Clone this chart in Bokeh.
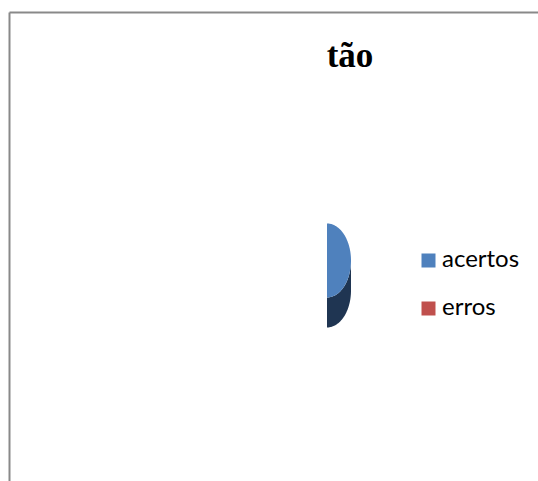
import numpy as np
from bokeh.plotting import figure
from bokeh.models import Range1d, Label
from bokeh.core.properties import value
from bokeh.embed import file_html
from bokeh.resources import INLINE

# Data
categories = ["acertos", "erros"]
percentages = [100, 0]
title_text = "tão"

# Styles
top_colors = ["#4F81BD", "#C0504D"]
side_colors = ["#1F3552", "#5E2523"]

W, H = 538, 481
p = figure(width=W, height=H, output_backend="svg", toolbar_location=None,
           x_range=Range1d(0, W), y_range=Range1d(H, 0), min_border=0)
p.axis.visible = False
p.grid.visible = False
p.outline_line_color = None
p.background_fill_color = "white"
p.border_fill_color = "white"

# chart-area frame (left and top edges)
p.segment(x0=[9, 9], y0=[481, 12], x1=[9, 538], y1=[12, 12],
          line_color="#898989", line_width=2)

# 3-D pie geometry; the plot area cuts the pie at its centre line
cx, cy = 326.5, 260.0
rx, ry = 24.0, 37.0
depth = 30.0
clip_left = cx

total = float(sum(percentages))
bounds = np.concatenate([[0.0], np.cumsum(percentages) / total * 2 * np.pi])


def arc(t0, t1, n=120):
    t = np.linspace(t0, t1, n)
    return cx + rx * np.sin(t), cy - ry * np.cos(t)


side_xs, side_ys, side_fill = [], [], []
top_xs, top_ys, top_fill = [], [], []
for i, cat in enumerate(categories):
    a0, a1 = bounds[i], bounds[i + 1]
    if a1 - a0 <= 0:
        continue
    # visible rim: the front half of the ellipse
    f0, f1 = max(a0, np.pi / 2), min(a1, 3 * np.pi / 2)
    if f1 > f0:
        ax, ay = arc(f0, f1)
        xs = np.concatenate([ax, ax[::-1]])
        ys = np.concatenate([ay, ay[::-1] + depth])
        side_xs.append(np.maximum(xs, clip_left))
        side_ys.append(ys)
        side_fill.append(side_colors[i])
    ax, ay = arc(a0, a1, 240)
    xs = np.concatenate([[cx], ax])
    ys = np.concatenate([[cy], ay])
    top_xs.append(np.maximum(xs, clip_left))
    top_ys.append(ys)
    top_fill.append(top_colors[i])

p.patches(xs=side_xs, ys=side_ys, fill_color=side_fill, line_color=None)
p.patches(xs=top_xs, ys=top_ys, fill_color=top_fill, line_color=None)

# title
p.add_layout(Label(x=349.5, y=54.5, text=title_text, text_align="center",
                   text_baseline="alphabetic", text_font="Liberation Serif",
                   text_font_style="bold", text_font_size="35px",
                   text_color="black"))

# legend
leg_y = [260 + 48 * i for i in range(len(categories))]
p.rect(x=[428] * len(categories), y=leg_y, width=14, height=14,
       fill_color=top_colors, line_color=None)
p.text(x=[441.5] * len(categories), y=[y - 3.5 for y in leg_y], text=categories,
       text_font=value("Lato"), text_font_size="24px", text_color="black",
       text_align="left", text_baseline="alphabetic")

open("out.html", "w").write(file_html(p, INLINE))
